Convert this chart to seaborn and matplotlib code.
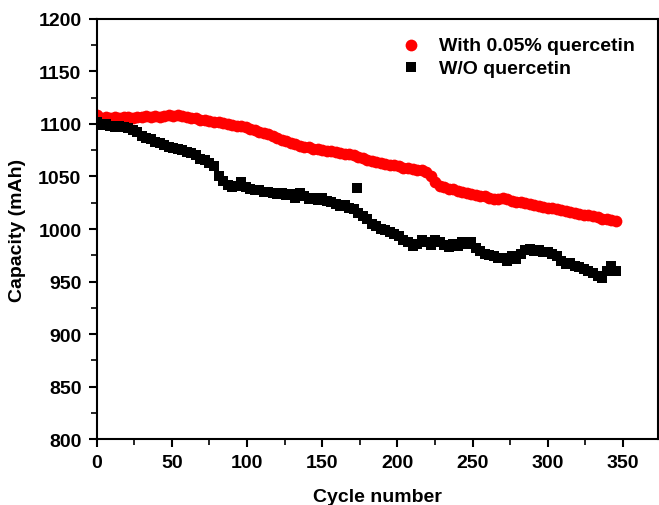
import numpy as np
import pandas as pd
import matplotlib
matplotlib.use("Agg")
import matplotlib.pyplot as plt
import seaborn as sns
from matplotlib.ticker import MultipleLocator

# cycle numbers and capacities (mAh)
red_cycles = list(range(0, 346, 3))
red_capacity = [1109, 1106, 1107, 1106, 1107, 1106, 1107, 1107, 1106, 1107,
                1107, 1108, 1107, 1108, 1107, 1108, 1109, 1108, 1109, 1108,
                1107, 1106, 1106, 1104, 1104, 1103, 1102, 1102, 1101, 1100,
                1099, 1098, 1098, 1097, 1095, 1094, 1092, 1091, 1090, 1089,
                1087, 1085, 1084, 1082, 1081, 1079, 1078, 1078, 1076, 1076,
                1075, 1074, 1074, 1073, 1072, 1071, 1071, 1070, 1069, 1068,
                1066, 1065, 1064, 1063, 1062, 1061, 1061, 1060, 1058, 1058,
                1057, 1056, 1056, 1054, 1050, 1045, 1041, 1040, 1038, 1038,
                1036, 1035, 1034, 1033, 1032, 1031, 1031, 1030, 1029, 1029,
                1030, 1029, 1027, 1026, 1026, 1025, 1024, 1023, 1022, 1021,
                1020, 1020, 1019, 1018, 1017, 1016, 1015, 1014, 1013, 1013,
                1012, 1011, 1010, 1010, 1009, 1008]

black_cycles = list(range(0, 346, 3)) + [173]
black_capacity = [1102, 1099, 1100, 1098, 1097, 1098, 1097, 1096, 1094, 1092,
                  1089, 1087, 1086, 1083, 1082, 1080, 1078, 1077, 1076, 1075,
                  1073, 1072, 1070, 1067, 1066, 1063, 1060, 1050, 1046, 1042,
                  1040, 1041, 1045, 1040, 1038, 1037, 1037, 1035, 1035, 1034,
                  1033, 1034, 1032, 1033, 1030, 1034, 1031, 1029, 1030, 1028,
                  1030, 1027, 1026, 1024, 1022, 1023, 1020, 1019, 1015, 1012,
                  1010, 1005, 1003, 1000, 999, 997, 995, 993, 990, 988,
                  984, 986, 990, 988, 985, 990, 988, 985, 983, 986,
                  984, 988, 986, 988, 982, 979, 976, 975, 974, 972,
                  972, 970, 974, 971, 976, 980, 981, 979, 980, 978,
                  978, 976, 974, 970, 967, 968, 965, 964, 962, 960,
                  958, 955, 953, 960, 965, 960,
                  1039]

labels = ["With 0.05% quercetin", "W/O quercetin"]

df = pd.concat([
    pd.DataFrame({"cycle": red_cycles, "capacity": red_capacity, "group": labels[0]}),
    pd.DataFrame({"cycle": black_cycles, "capacity": black_capacity, "group": labels[1]}),
])

sns.set_theme(style="white")
plt.rcParams["font.family"] = ["Liberation Sans", "DejaVu Sans"]
plt.rcParams["font.weight"] = "bold"
for k in ["text.color", "axes.labelcolor", "xtick.color", "ytick.color"]:
    plt.rcParams[k] = "black"

fig = plt.figure(figsize=(6.59, 5.06), dpi=100)
ax = fig.add_axes([0.1467, 0.1304, 0.8513, 0.8301])

sns.scatterplot(data=df[df.group == labels[0]], x="cycle", y="capacity",
                color="#ff0000", marker="o", s=72, linewidth=0, ax=ax, label=labels[0])
sns.scatterplot(data=df[df.group == labels[1]], x="cycle", y="capacity",
                color="black", marker="s", s=52, linewidth=0, ax=ax, label=labels[1])

ax.set_xlim(0, 373)
ax.set_ylim(800, 1200)
ax.xaxis.set_major_locator(MultipleLocator(50))
ax.xaxis.set_minor_locator(MultipleLocator(25))
ax.yaxis.set_major_locator(MultipleLocator(50))
ax.yaxis.set_minor_locator(MultipleLocator(25))
ax.tick_params(which="major", direction="out", length=6, width=1.5, pad=5,
               labelsize=14, bottom=True, left=True, top=False, right=False)
ax.tick_params(which="minor", direction="out", length=4, width=1.2,
               bottom=True, left=True, top=False, right=False)
for lab in ax.get_xticklabels() + ax.get_yticklabels():
    lab.set_fontweight("bold")
for sp in ax.spines.values():
    sp.set_linewidth(1.5)
    sp.set_color("black")

ax.set_xlabel("Cycle number", fontsize=14, fontweight="bold", labelpad=12)
ax.set_ylabel("Capacity (mAh)", fontsize=14, fontweight="bold", labelpad=9)

leg = ax.legend(loc="upper right", bbox_to_anchor=(0.99, 1.0), frameon=False,
                handletextpad=0.4, labelspacing=0.25, markerscale=1.0,
                prop={"weight": "bold", "size": 14})

fig.savefig("out.png", dpi=100)
